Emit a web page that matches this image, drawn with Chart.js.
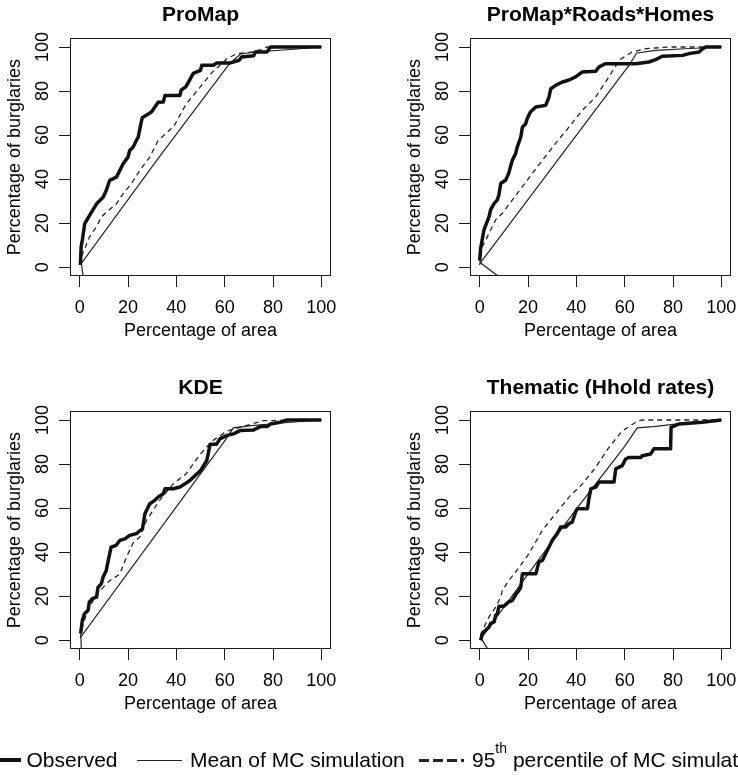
<!DOCTYPE html>
<html lang="en">
<head>
  <meta charset="UTF-8">
  <title>Cumulative burglaries vs area</title>
  <script src="https://cdn.jsdelivr.net/npm/chart.js"></script>
  <style>
    html, body { margin: 0; padding: 0; background: #fff; overflow: hidden; }
    body { width: 738px; height: 776px; position: relative; font-family: 'Liberation Sans', Arial, Helvetica, sans-serif; }
    .panel { position: absolute; width: 369px; height: 373px; }
    #legend { position: absolute; left: 0; top: 0; width: 738px; height: 776px; pointer-events: none; }
    #legend .seg { position: absolute; display: block; }
    #legend .thick { top: 758px; height: 4px; background: #111; }
    #legend .thin { top: 759.5px; height: 1.2px; background: #222; }
    #legend .dash { top: 759px; height: 2.5px; background: repeating-linear-gradient(to right, #222 0 10px, transparent 10px 14px); }
    #legend .lab { position: absolute; top: 748px; font-size: 21px; line-height: 24px; white-space: nowrap; color: #000; }
    #legend sup { font-size: 14px; vertical-align: 14px; line-height: 0; }
  </style>
</head>
<body>
  <div class="panel" style="left:0;top:0"><canvas id="p1" width="369" height="373"></canvas></div>
  <div class="panel" style="left:400px;top:0"><canvas id="p2" width="369" height="373"></canvas></div>
  <div class="panel" style="left:0;top:373px"><canvas id="p3" width="369" height="373"></canvas></div>
  <div class="panel" style="left:400px;top:373px"><canvas id="p4" width="369" height="373"></canvas></div>

  <div id="legend">
    <span class="seg thick" style="left:-25px;width:45.5px"></span>
    <span class="lab" style="left:26.5px">Observed</span>
    <span class="seg thin" style="left:137px;width:45px"></span>
    <span class="lab" style="left:190px">Mean of MC simulation</span>
    <span class="seg dash" style="left:419px;width:45px"></span>
    <span class="lab" style="left:472px">95<sup>th</sup> percentile of MC simulation</span>
  </div>

  <script>
    const tickValues = [0, 20, 40, 60, 80, 100];

    // ProMap
    const proObsX = [0.3, 0.6, 1.2, 2.1, 4.1, 5.5, 7, 9.7, 11, 12.4, 15.2, 16, 18, 20, 20.7, 22.1, 23.5, 24.2, 25.6, 26, 28.4, 29.7, 32.5, 34.6, 35.3, 41.5, 42, 44, 47, 50, 50.5, 55.3, 56.7, 62, 66, 67, 72, 72.6, 77.5, 79, 100];
    const proObsY = [1, 9.2, 13, 19.8, 23.5, 26, 28.8, 31.8, 34.8, 39.4, 40.9, 42.6, 47, 50, 53, 54.5, 57.7, 59, 66.6, 68, 69.6, 70.5, 74.9, 75, 78, 78, 80.4, 82, 88, 89.4, 91.7, 91.7, 92.7, 92.7, 94, 95.5, 96, 97.7, 97.7, 100, 100];
    const proMeanX = [2.2, 0.7, 32.5, 62, 66.4, 70, 80, 90, 100];
    const proMeanY = [-10, 1.7, 49.4, 92.4, 96.7, 97.4, 98.3, 99.1, 100];
    const proP95X = [0.3, 0.7, 4.1, 6.9, 9, 11, 15.2, 18, 21.4, 24.9, 29, 32.5, 39, 44, 50, 55, 61, 65, 70, 75, 77.5, 100];
    const proP95Y = [1, 4.7, 13.8, 18.3, 22.8, 25, 28.8, 33.4, 37.9, 44, 50, 57.6, 64, 74, 82, 88.7, 94.7, 97, 97.5, 98.8, 100, 100];

    // ProMap*Roads*Homes
    const prhObsX = [0, 0.4, 1.8, 2.5, 3.9, 4.5, 6, 7.3, 8, 8.7, 10.8, 12, 13.5, 14.9, 15.6, 17, 17.7, 19, 19.7, 21, 23.2, 27.3, 28.7, 29.4, 31.4, 34, 37, 39.7, 42.5, 48, 49.4, 52, 64.6, 70, 72.8, 75.6, 84, 86.6, 90.8, 92, 93.5, 100];
    const prhObsY = [3, 8.6, 17, 19, 23, 26, 29, 30.5, 33, 38, 39.6, 42.6, 48.6, 51.7, 54.7, 59, 63.7, 65, 67.5, 70.5, 72.8, 73.5, 77.3, 81, 82.6, 84, 85, 86.4, 88.7, 89, 91, 92.4, 92.4, 93.2, 94.3, 95.8, 96.2, 97, 97.7, 99, 100, 100];
    const prhMeanX = [10, 0.3, 62, 65, 73, 85, 100];
    const prhMeanY = [-6, 2, 92, 97.3, 98.5, 99.2, 100];
    const prhP95X = [0, 1.1, 3.9, 6.6, 9.4, 13.5, 17.7, 21.8, 26, 31.4, 37, 42.5, 48, 53.5, 57.7, 63, 68.7, 78, 100];
    const prhP95Y = [1, 9.4, 15.4, 21.5, 24.5, 30.5, 36.6, 42.6, 48.6, 56.2, 63.7, 71.3, 77.3, 86.4, 94, 97.7, 99.2, 100, 100];

    // KDE
    const kdeObsX = [0.4, 1.1, 2, 3.5, 4, 5.5, 7, 7.6, 9, 9.7, 11, 11.8, 13, 15, 16.6, 18.7, 20.7, 23.5, 25, 26, 27, 29, 31, 32.5, 34.6, 35.3, 38.7, 41.5, 43.6, 45.6, 47, 50, 52.6, 54, 56.7, 58, 61, 63.6, 66.4, 72, 74.7, 77.5, 79, 83, 85.8, 100];
    const kdeObsY = [3, 9, 12, 13.6, 17.4, 19, 19.6, 24, 25.7, 28.7, 31.7, 36, 42.3, 43, 45.3, 46, 47.6, 48.4, 49.8, 50.6, 57.4, 62, 63.4, 65, 66.5, 68.8, 68.8, 69.6, 71, 72.5, 74, 77, 81.6, 89, 89, 91.4, 93, 93.7, 95.2, 95.5, 97, 97, 98.2, 99, 100, 100];
    const kdeMeanX = [0.9, 0.5, 61, 63.6, 70, 80, 90, 100];
    const kdeMeanY = [-10, 1.5, 92, 96.4, 97.3, 98.3, 99.2, 100];
    const kdeP95X = [0.3, 0.7, 2.8, 7, 9.7, 12.4, 16.6, 19.4, 22, 25, 27.7, 33, 38.7, 44, 50, 55, 61, 66.4, 76, 100];
    const kdeP95Y = [1, 4.5, 12, 21, 24, 27, 30, 37.8, 44, 47, 54.5, 63.4, 71, 75.5, 84.6, 90.6, 95, 96.7, 99.7, 100];

    // Thematic (Hhold rates)
    const thmObsX = [0.4, 1.1, 2.5, 3.9, 4.5, 6, 6.6, 7.3, 8, 10, 12, 13.5, 14.9, 16.3, 17, 17.7, 23.3, 24.5, 26, 27.3, 28.7, 30, 32, 33.5, 35.6, 37, 38.3, 39.7, 40.4, 44.6, 45.2, 46, 48, 49.4, 55.6, 56.3, 59, 60.4, 61.8, 66.6, 67.3, 70.8, 72.1, 79, 79.2, 82.5, 92, 100];
    const thmObsY = [0, 3, 4.5, 6, 7.5, 8.3, 11.3, 12, 15.4, 15.4, 17.4, 18, 20.7, 22.7, 24, 30.2, 30.2, 35.6, 36.3, 39.3, 42.3, 45.3, 48.3, 51.4, 51.4, 53, 53.6, 58.2, 59.7, 59.7, 64.2, 68.7, 69.5, 71.8, 71.8, 77.8, 79.3, 82.3, 83, 83, 83.8, 84.6, 86.9, 86.9, 96.7, 98.2, 99, 100];
    const thmMeanX = [4.5, 0.6, 20, 40, 60, 65.2, 72, 80, 90, 100];
    const thmMeanY = [-6, 0.8, 30, 59.5, 88, 96.4, 97, 98, 98.8, 100];
    const thmP95X = [0.4, 2.5, 3.9, 6.6, 8.7, 9.4, 12, 16.3, 20.4, 26, 31.4, 37, 42.5, 48, 53.5, 59, 64.6, 67.3, 80, 100];
    const thmP95Y = [2.3, 7.5, 10.6, 15, 19.6, 22.7, 27, 33, 39.3, 50, 57.4, 65, 71, 78.5, 87.6, 95, 99, 100, 100, 100];

    const FONT = "'Liberation Sans', Arial, Helvetica, sans-serif";
    const INK = '#1a1a1a';
    const axisFont = { family: FONT, size: 18, lineHeight: 1.2 };

    const pts = (xs, ys) => xs.map((x, i) => ({ x, y: ys[i] }));

    // R-style box round the plot region
    const frame = {
      id: 'frame',
      afterDraw(chart) {
        const { ctx, chartArea: a } = chart;
        ctx.save();
        ctx.strokeStyle = INK;
        ctx.lineWidth = 1;
        ctx.strokeRect(Math.round(a.left) + 0.5, Math.round(a.top) + 0.5,
          Math.round(a.right - a.left) - 1, Math.round(a.bottom - a.top) - 1);
        ctx.restore();
      }
    };

    function makePanel(id, title, obsX, obsY, meanX, meanY, p95X, p95Y) {
      const ctx = document.getElementById(id).getContext('2d');
      new Chart(ctx, {
        type: 'line',
        data: {
          datasets: [
            { label: 'Observed', data: pts(obsX, obsY), borderColor: '#111', borderWidth: 3.5,
              pointRadius: 0, tension: 0, clip: 0, borderJoinStyle: 'round' },
            { label: 'Mean of MC simulation', data: pts(meanX, meanY), borderColor: '#222', borderWidth: 1.2,
              pointRadius: 0, tension: 0, clip: 0 },
            { label: '95th percentile of MC simulation', data: pts(p95X, p95Y), borderColor: '#222', borderWidth: 1.3,
              borderDash: [5, 4], pointRadius: 0, tension: 0, clip: 0 }
          ]
        },
        options: {
          responsive: false,
          animation: false,
          events: [],
          devicePixelRatio: 1,
          layout: { padding: { left: 0, right: 38, top: 0, bottom: 0 } },
          plugins: {
            legend: { display: false },
            tooltip: { enabled: false },
            title: {
              display: true, text: title, fullSize: false, color: '#000',
              font: { family: FONT, size: 21, weight: 'bold', lineHeight: 1.2 },
              padding: { top: 3, bottom: 10 }
            }
          },
          scales: {
            x: {
              type: 'linear', min: -4, max: 104,
              afterBuildTicks: s => { s.ticks = tickValues.map(v => ({ value: v })); },
              afterFit: s => { s.height = 97; },
              grid: { drawOnChartArea: false, drawTicks: true, tickLength: 11, tickColor: INK, tickWidth: 1 },
              border: { display: false },
              ticks: { font: axisFont, color: '#000', padding: 10, maxRotation: 0, autoSkip: false },
              title: { display: true, text: 'Percentage of area', font: axisFont, color: '#000',
                padding: { top: 0, bottom: 31 } }
            },
            y: {
              type: 'linear', min: -4, max: 104,
              afterBuildTicks: s => { s.ticks = tickValues.map(v => ({ value: v })); },
              afterFit: s => { s.width = 70; },
              grid: { drawOnChartArea: false, drawTicks: true, tickLength: 11, tickColor: INK, tickWidth: 1 },
              border: { display: false },
              ticks: { font: axisFont, color: '#000', padding: 1, minRotation: 90, maxRotation: 90,
                crossAlign: 'center', autoSkip: false },
              title: { display: true, text: 'Percentage of burglaries', font: axisFont, color: '#000',
                padding: { top: 4.5, bottom: 0 } }
            }
          }
        },
        plugins: [frame]
      });
    }

    makePanel('p1', 'ProMap', proObsX, proObsY, proMeanX, proMeanY, proP95X, proP95Y);
    makePanel('p2', 'ProMap*Roads*Homes', prhObsX, prhObsY, prhMeanX, prhMeanY, prhP95X, prhP95Y);
    makePanel('p3', 'KDE', kdeObsX, kdeObsY, kdeMeanX, kdeMeanY, kdeP95X, kdeP95Y);
    makePanel('p4', 'Thematic (Hhold rates)', thmObsX, thmObsY, thmMeanX, thmMeanY, thmP95X, thmP95Y);
  </script>
</body>
</html>
